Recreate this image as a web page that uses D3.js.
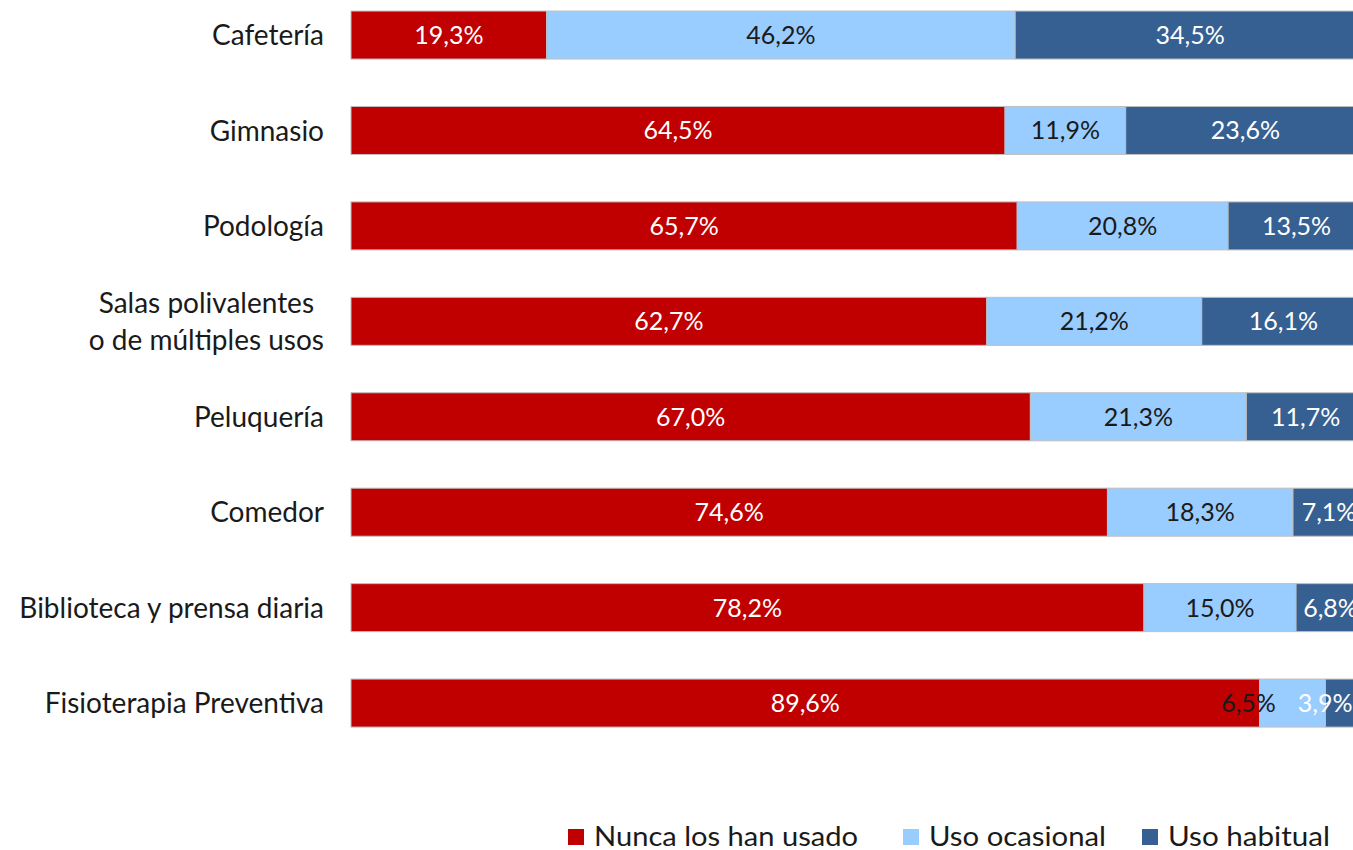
<!DOCTYPE html>
<html>
<head>
<meta charset="utf-8">
<script src="https://cdn.jsdelivr.net/npm/d3@7"></script>
<style>
  html, body { margin: 0; padding: 0; background: #fff; overflow: hidden; }
  svg { display: block; font-family: Lato, "Open Sans", sans-serif; }
</style>
</head>
<body>
<svg id="chart" width="1353" height="850"></svg>
<script>
// Services and share of users by frequency of use (%)
const categories = [
  ["Cafetería"],
  ["Gimnasio"],
  ["Podología"],
  ["Salas polivalentes", "o de múltiples usos"],
  ["Peluquería"],
  ["Comedor"],
  ["Biblioteca y prensa diaria"],
  ["Fisioterapia Preventiva"]
];
const seriesNames = ["Nunca los han usado", "Uso ocasional", "Uso habitual"];
const nunca     = [19.3, 64.5, 65.7, 62.7, 67.0, 74.6, 78.2, 89.6];
const ocasional = [46.2, 11.9, 20.8, 21.2, 21.3, 18.3, 15.0, 6.5];
const habitual  = [34.5, 23.6, 13.5, 16.1, 11.7, 7.1, 6.8, 3.9];

const colors = ["#C00000", "#99CCFF", "#366092"];
const labelColors = ["#ffffff", "#1a1a1a", "#ffffff"];

// label nudges for the narrow segments of the last row
const labelShift = { "7-1": -44, "7-2": -20 };

const svg = d3.select("#chart");
const keys = categories.map((c, i) => "c" + i);
const rows = keys.map((k, i) => ({ key: k, values: [nunca[i], ocasional[i], habitual[i]] }));

const x = d3.scaleLinear().domain([0, 100]).range([351, 1365]);
const y = d3.scaleBand().domain(keys).range([-36.4, 774.5]).padding(0.497);

const fmt = v => v.toFixed(1).replace(".", ",") + "%";

// stacked bars
rows.forEach((r, i) => {
  let acc = 0;
  const g = svg.append("g");
  r.values.forEach((v, s) => {
    const x0 = x(acc), x1 = x(acc + v);
    g.append("rect")
      .attr("x", x0).attr("y", y(r.key))
      .attr("width", x1 - x0).attr("height", y.bandwidth())
      .attr("fill", colors[s])
      .attr("stroke", "#bfbfbf").attr("stroke-width", 1);
    acc += v;
  });
  acc = 0;
  r.values.forEach((v, s) => {
    const cx = x(acc + v / 2) + (labelShift[i + "-" + s] || 0);
    g.append("text")
      .attr("x", cx).attr("y", y(r.key) + y.bandwidth() / 2)
      .attr("dy", "0.36em")
      .attr("text-anchor", "middle")
      .attr("font-size", 25)
      .attr("fill", labelColors[s])
      .text(fmt(v));
    acc += v;
  });
});

// category labels: block right-aligned to the axis, lines centred within it
const yAxis = svg.append("g");
const labelRight = 324;
categories.forEach((lines, i) => {
  const cy = y(keys[i]) + y.bandwidth() / 2;
  const lh = 37;
  const texts = lines.map((t, j) => yAxis.append("text")
    .attr("y", cy + (j - (lines.length - 1) / 2) * lh)
    .attr("dy", "0.36em")
    .attr("font-size", 28)
    .attr("fill", "#1a1a1a")
    .text(t));
  if (lines.length === 1) {
    texts[0].attr("x", labelRight).attr("text-anchor", "end");
  } else {
    const maxW = d3.max(texts, t => t.node().getComputedTextLength());
    texts.forEach(t => t.attr("x", labelRight - maxW / 2).attr("text-anchor", "middle"));
  }
});

// legend
const legendX = [568, 903, 1142];
const legendW = [264, 177, 162];
const legend = svg.append("g");
seriesNames.forEach((name, s) => {
  legend.append("rect")
    .attr("x", legendX[s]).attr("y", 829)
    .attr("width", 16).attr("height", 16)
    .attr("fill", colors[s]);
  legend.append("text")
    .attr("x", legendX[s] + 26).attr("y", 846)
    .attr("font-size", 27)
    .attr("textLength", legendW[s])
    .attr("lengthAdjust", "spacingAndGlyphs")
    .attr("fill", "#1a1a1a")
    .text(name);
});
</script>
</body>
</html>
